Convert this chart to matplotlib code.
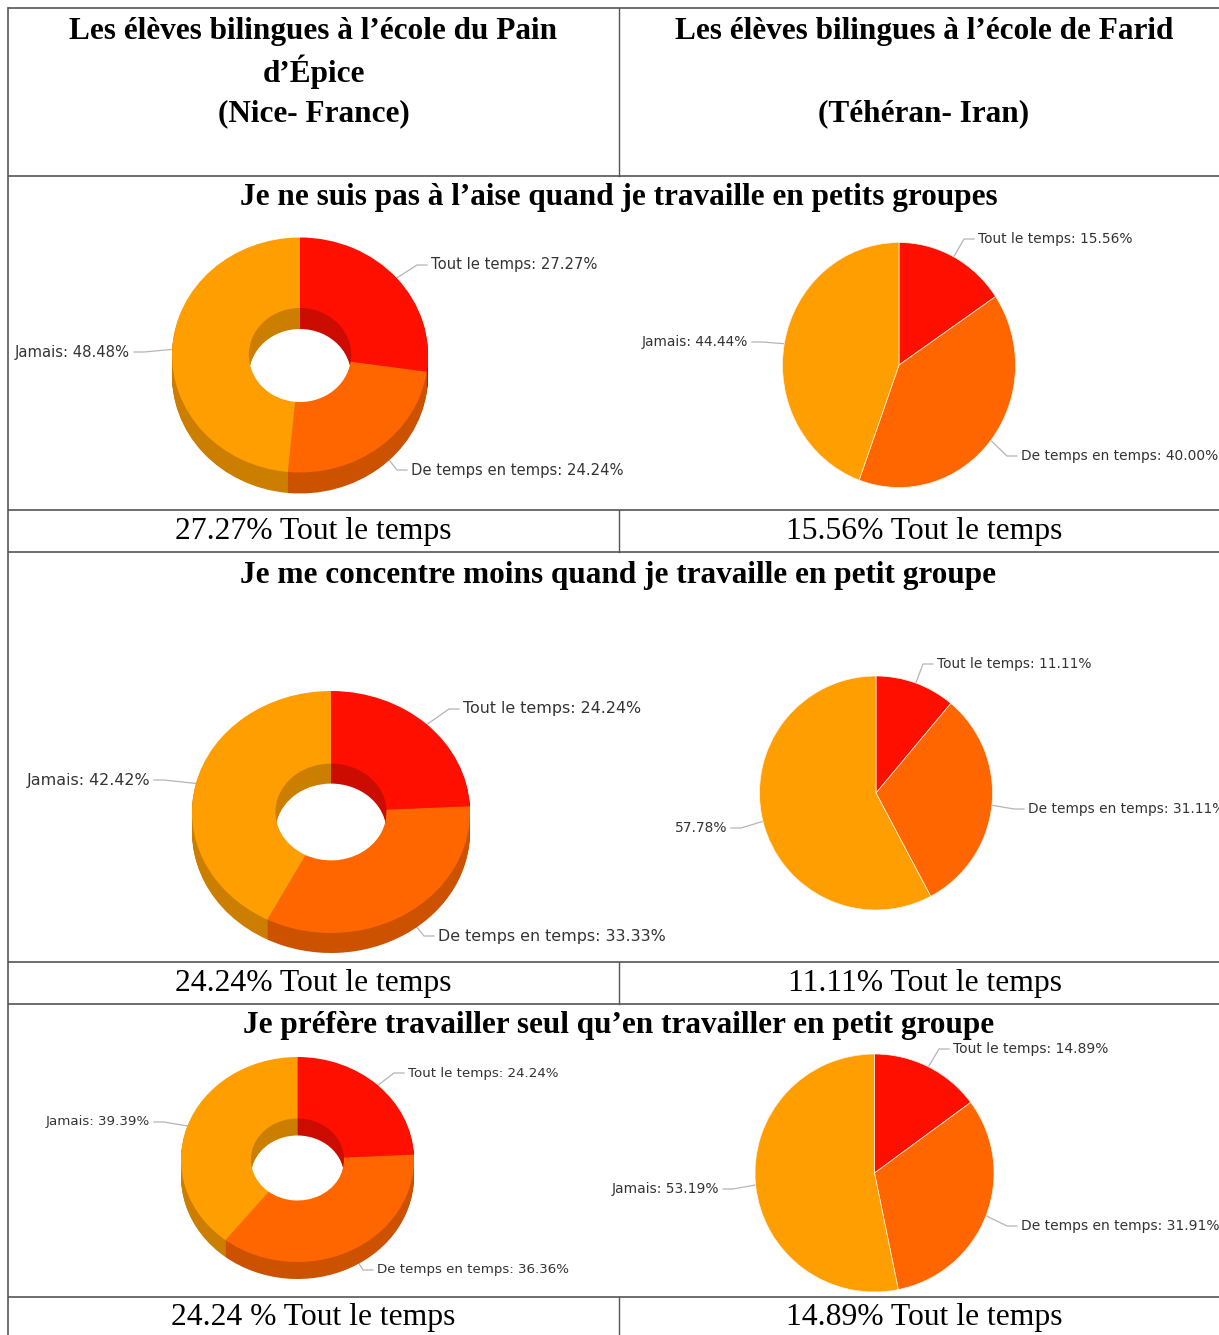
import numpy as np
import matplotlib
matplotlib.use("Agg")
import matplotlib.pyplot as plt
from matplotlib.colors import to_rgb

# data
categories = ["Tout le temps", "De temps en temps", "Jamais"]
colors = ["#FF0F00", "#FF6600", "#FF9E01"]

nice_q1 = [27.27, 24.24, 48.48]
nice_q2 = [24.24, 33.33, 42.42]
nice_q3 = [24.24, 36.36, 39.39]
teheran_q1 = [15.56, 40.00, 44.44]
teheran_q2 = [11.11, 31.11, 57.78]
teheran_q3 = [14.89, 31.91, 53.19]

questions = [
    "Je ne suis pas à l’aise quand je travaille en petits groupes",
    "Je me concentre moins quand je travaille en petit groupe",
    "Je préfère travailler seul qu’en travailler en petit groupe",
]
header_left = ["Les élèves bilingues à l’école du Pain", "d’Épice", "(Nice- France)"]
header_right = ["Les élèves bilingues à l’école de Farid", "", "(Téhéran- Iran)"]
captions_left = ["27.27% Tout le temps", "24.24% Tout le temps", "24.24 % Tout le temps"]
captions_right = ["15.56% Tout le temps", "11.11% Tout le temps", "14.89% Tout le temps"]

W, H = 1219, 1335
fig = plt.figure(figsize=(W / 100, H / 100), dpi=100)
ax = fig.add_axes([0, 0, 1, 1])
ax.set_xlim(0, W)
ax.set_ylim(H, 0)
ax.axis("off")

SERIF = "Liberation Serif"
LINE = "#555555"

# table grid
for y in [8, 176, 510, 552, 962, 1004, 1297]:
    ax.plot([8, 1229], [y, y], color=LINE, lw=1.2, solid_capstyle="butt")
ax.plot([8, 8], [8, H], color=LINE, lw=1.2)
for y0, y1 in [(8, 176), (510, 552), (962, 1004), (1297, H)]:
    ax.plot([619, 619], [y0, y1], color=LINE, lw=1.0)

# header
for txt, y in zip(header_left, [32, 72, 114]):
    ax.text(313.5, y, txt, ha="center", va="center", fontsize=22.5,
            fontweight="bold", family=SERIF)
for txt, y in zip(header_right, [32, 72, 114]):
    ax.text(924, y, txt, ha="center", va="center", fontsize=22.5,
            fontweight="bold", family=SERIF)

for q, y in zip(questions, [198, 575, 1026]):
    ax.text(618.5, y, q, ha="center", va="center", fontsize=22.5,
            fontweight="bold", family=SERIF)

for c, y in zip(captions_left, [531, 983, 1317]):
    ax.text(313.5, y, c, ha="center", va="center", fontsize=22.8, family=SERIF)
for c, y in zip(captions_right, [531, 983, 1317]):
    ax.text(924.5, y, c, ha="center", va="center", fontsize=22.8, family=SERIF)


def darker(c, f=0.8):
    return tuple(v * f for v in to_rgb(c))


def donut3d(vals, cx, cy, rx, ry, depth, hole=0.4):
    pax = fig.add_axes([(cx - rx) / W, 1 - (cy + ry + depth) / H,
                        2 * rx / W, (2 * ry + depth) / H])
    d = depth / ry
    dark = [darker(c) for c in colors]
    for off in np.linspace(d, 0, int(depth) + 2)[:-1]:
        pax.pie(vals, colors=dark, startangle=90, counterclock=False,
                center=(0, -off), wedgeprops=dict(width=1 - hole, linewidth=0))
    wedges, _ = pax.pie(vals, colors=colors, startangle=90, counterclock=False,
                        wedgeprops=dict(width=1 - hole, linewidth=0))
    pax.set_aspect("auto")
    pax.set_xlim(-1, 1)
    pax.set_ylim(-1 - d, 1)
    pax.axis("off")
    return wedges


def flat_pie(vals, cx, cy, rx, ry):
    pax = fig.add_axes([(cx - rx) / W, 1 - (cy + ry) / H, 2 * rx / W, 2 * ry / H])
    wedges, _ = pax.pie(vals, colors=colors, startangle=90, counterclock=False,
                        wedgeprops=dict(linewidth=0.5, edgecolor="#fff3e8"))
    pax.set_aspect("auto")
    pax.set_xlim(-1, 1)
    pax.set_ylim(-1, 1)
    pax.axis("off")
    return wedges


def add_labels(wedges, texts, cx, cy, rx, ry, spots, fs):
    for w, t, (tx, ty, side) in zip(wedges, texts, spots):
        a = np.deg2rad((w.theta1 + w.theta2) / 2)
        ex, ey = cx + rx * np.cos(a), cy - ry * np.sin(a)
        sgn = 1 if side == "left" else -1
        ax.plot([ex, tx - sgn * 14, tx - sgn * 4], [ey, ty, ty],
                color="#b5b5b5", lw=0.9)
        ax.text(tx, ty, t, ha=side, va="center", fontsize=fs, color="#333333")


def make_labels(vals):
    return [f"{c}: {v:.2f}%" for c, v in zip(categories, vals)]


# row 1
g = (300, 355, 128, 117.5)
w = donut3d(nice_q1, *g, depth=21)
add_labels(w, make_labels(nice_q1), *g,
           [(431, 265, "left"), (411, 470, "left"), (130, 352, "right")], 10.6)
g = (899, 365, 116.5, 122.5)
w = flat_pie(teheran_q1, *g)
add_labels(w, make_labels(teheran_q1), *g,
           [(978, 239, "left"), (1021, 456, "left"), (748, 342, "right")], 9.9)

# row 2
g = (331, 812, 139, 121)
w = donut3d(nice_q2, *g, depth=20)
add_labels(w, make_labels(nice_q2), *g,
           [(463, 709, "left"), (438, 936, "left"), (150, 780, "right")], 11.4)
g = (876, 793, 116.5, 117)
w = flat_pie(teheran_q2, *g)
lab = make_labels(teheran_q2)
lab[2] = f"{teheran_q2[2]:.2f}%"
add_labels(w, lab, *g,
           [(937, 664, "left"), (1028, 809, "left"), (727, 828, "right")], 9.9)

# row 3
g = (297.5, 1159.5, 116.5, 102.5)
w = donut3d(nice_q3, *g, depth=17)
add_labels(w, make_labels(nice_q3), *g,
           [(408, 1073, "left"), (377, 1270, "left"), (150, 1122, "right")], 9.6)
g = (874.5, 1173, 119.5, 119)
w = flat_pie(teheran_q3, *g)
add_labels(w, make_labels(teheran_q3), *g,
           [(953, 1049, "left"), (1021, 1226, "left"), (719, 1189, "right")], 10)

fig.savefig("out.png", dpi=100)
